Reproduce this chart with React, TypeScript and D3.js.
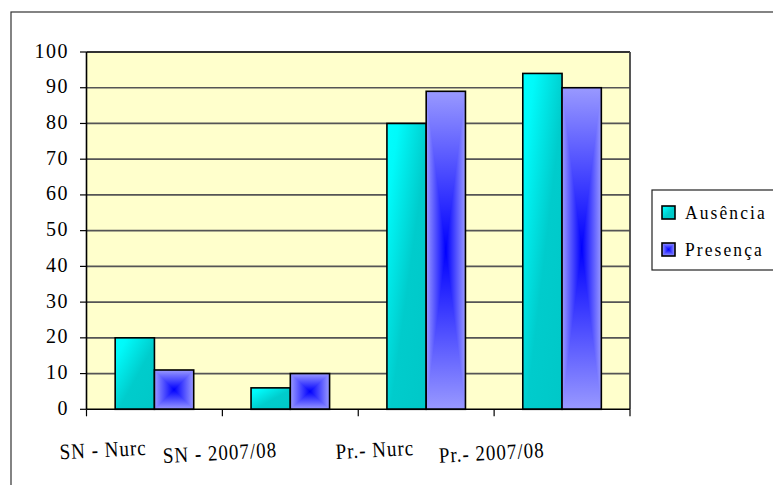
import React from 'react';
import * as d3 from 'd3';

const categories = ['SN - Nurc', 'SN - 2007/08', 'Pr.- Nurc', 'Pr.- 2007/08'];
const seriesNames = ['Ausência', 'Presença'];
const ausencia = [20, 6, 80, 94];
const presenca = [11, 10, 89, 90];
const yTicks = [0, 10, 20, 30, 40, 50, 60, 70, 80, 90, 100];

const W = 773;
const H = 485;
const PL = 86.5, PR = 630, PT = 52, PB = 409.3;
const FONT = '"Liberation Serif", "Times New Roman", serif';
const CY_LIGHT = '#9999FF';
const CY_DARK = '#0000FF';

function CenterBar({ id, x, yTop, w, h }: { id: string; x: number; yTop: number; w: number; h: number }) {
  const cx = x + w / 2;
  const cy = yTop + h / 2;
  const yb = yTop + h;
  return (
    <g>
      <defs>
        <linearGradient id={`${id}-h`} gradientUnits="userSpaceOnUse" x1={x} y1={0} x2={x + w} y2={0}>
          <stop offset="0" stopColor={CY_LIGHT} />
          <stop offset="0.5" stopColor={CY_DARK} />
          <stop offset="1" stopColor={CY_LIGHT} />
        </linearGradient>
        <linearGradient id={`${id}-t`} gradientUnits="userSpaceOnUse" x1={0} y1={yTop} x2={0} y2={cy}>
          <stop offset="0" stopColor={CY_LIGHT} />
          <stop offset="1" stopColor={CY_DARK} />
        </linearGradient>
        <linearGradient id={`${id}-b`} gradientUnits="userSpaceOnUse" x1={0} y1={yb} x2={0} y2={cy}>
          <stop offset="0" stopColor={CY_LIGHT} />
          <stop offset="1" stopColor={CY_DARK} />
        </linearGradient>
      </defs>
      <rect x={x} y={yTop} width={w} height={h} fill={`url(#${id}-h)`} />
      <polygon points={`${x},${yTop} ${x + w},${yTop} ${cx},${cy}`} fill={`url(#${id}-t)`} />
      <polygon points={`${x},${yb} ${x + w},${yb} ${cx},${cy}`} fill={`url(#${id}-b)`} />
      <rect x={x} y={yTop} width={w} height={h} fill="none" stroke="#000" strokeWidth={1.6} />
    </g>
  );
}

export default function App() {
  const x0 = d3.scaleBand<string>().domain(categories).range([PL, PR]).padding(0);
  const x1 = d3.scaleBand<string>().domain(seriesNames).range([0, x0.bandwidth()]).paddingInner(0).paddingOuter(0.73);
  const y = d3.scaleLinear().domain([0, 100]).range([PB, PT]);
  const bw = x1.bandwidth();

  const bounds = [...categories.map((c) => x0(c) as number), PR];

  return (
    <svg width={W} height={H} style={{ position: 'absolute', left: 0, top: 0, background: '#fff' }} fontFamily={FONT}>
      <defs>
        <linearGradient id="cyanGrad" x1="0" y1="0" x2="1" y2="1">
          <stop offset="0" stopColor="#00FFFF" />
          <stop offset="0.15" stopColor="#00FAFA" />
          <stop offset="0.55" stopColor="#00CCCC" />
          <stop offset="1" stopColor="#00C8C8" />
        </linearGradient>
      </defs>
      {/* outer chart border */}
      <rect x={11} y={12} width={W + 20} height={H + 20} fill="#fff" stroke="#333" strokeWidth={1.2} />

      {/* plot area */}
      <rect x={PL} y={PT} width={PR - PL} height={PB - PT} fill="#FFFFCC" />
      {yTicks.filter((t) => t > 0 && t < 100).map((t) => (
        <line key={t} x1={PL} x2={PR} y1={y(t)} y2={y(t)} stroke="#555" strokeWidth={1.7} />
      ))}
      <line x1={PL} x2={PR} y1={PT} y2={PT} stroke="#333" strokeWidth={1.8} />
      <line x1={PR} x2={PR} y1={PT} y2={PB} stroke="#444" strokeWidth={1.8} />

      {/* bars */}
      {categories.map((c, i) => {
        const gx = x0(c) as number;
        const xa = gx + (x1('Ausência') as number);
        const xp = gx + (x1('Presença') as number);
        const ya = y(ausencia[i]);
        const yp = y(presenca[i]);
        return (
          <g key={c}>
            <rect x={xa} y={ya} width={bw} height={PB - ya} fill="url(#cyanGrad)" stroke="#000" strokeWidth={1.6} />
            <CenterBar id={`pb${i}`} x={xp} yTop={yp} w={bw} h={PB - yp} />
          </g>
        );
      })}

      {/* axes */}
      <line x1={PL} x2={PL} y1={PT} y2={PB} stroke="#000" strokeWidth={1.6} />
      <line x1={PL} x2={PR} y1={PB} y2={PB} stroke="#000" strokeWidth={1.6} />
      {yTicks.map((t) => (
        <g key={t}>
          <line x1={80} x2={PL} y1={y(t)} y2={y(t)} stroke="#000" strokeWidth={1.2} />
          <text
            transform={`translate(69,${y(t) + 5.5}) scale(1,1.1)`}
            textAnchor="end"
            fontSize={20}
            letterSpacing={1.5}
            fill="#000"
          >
            {t}
          </text>
        </g>
      ))}
      {bounds.map((bx, i) => (
        <line key={i} x1={bx} x2={bx} y1={PB} y2={PB + 7} stroke="#000" strokeWidth={1.2} />
      ))}
      {categories.map((c, i) => {
        const cx = (x0(c) as number) + (i % 2 === 0 ? 17 : -2);
        const by = i % 2 === 0 ? 457 : 460;
        return (
          <text
            key={c}
            transform={`translate(${cx},${by}) rotate(-3) scale(1,1.15)`}
            textAnchor="middle"
            fontSize={19}
            letterSpacing={1}
            fill="#000"
          >
            {c}
          </text>
        );
      })}

      {/* legend */}
      <rect x={652} y={190} width={160} height={80} fill="#fff" stroke="#222" strokeWidth={1.2} />
      <rect x={662} y={206} width={13} height={13} fill="url(#cyanGrad)" stroke="#000" strokeWidth={1.6} />
      <text transform="translate(685,219) scale(1,1.12)" fontSize={17.5} letterSpacing={2.1} fill="#000">
        {seriesNames[0]}
      </text>
      <CenterBar id="legp" x={662} yTop={243} w={13} h={13} />
      <text transform="translate(685,256) scale(1,1.12)" fontSize={17.5} letterSpacing={2.1} fill="#000">
        {seriesNames[1]}
      </text>
    </svg>
  );
}
